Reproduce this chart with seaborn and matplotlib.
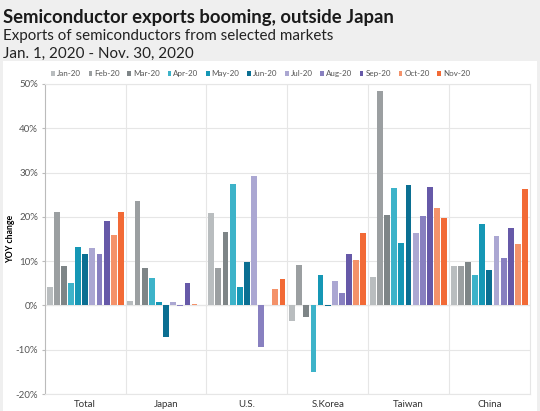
import pandas as pd
import numpy as np
import matplotlib.pyplot as plt
import seaborn as sns
from matplotlib.patches import Rectangle

plt.rcParams['font.family'] = ['Lato', 'DejaVu Sans']

# Chart data (YoY % change in semiconductor exports)
markets = ["Total", "Japan", "U.S.", "S.Korea", "Taiwan", "China"]
months = ["Jan-20", "Feb-20", "Mar-20", "Apr-20", "May-20", "Jun-20",
          "Jul-20", "Aug-20", "Sep-20", "Oct-20", "Nov-20"]

total = [4.2, 21.2, 8.8, 5.0, 13.2, 11.7, 13.0, 11.7, 19.0, 15.8, 21.2]
japan = [1.1, 23.5, 8.4, 6.3, 0.8, -7.2, 0.8, -0.2, 5.1, 0.4, np.nan]
us = [20.9, 8.5, 16.5, 27.5, 4.2, 9.7, 29.3, -9.4, np.nan, 3.8, 6.0]
skorea = [-3.4, 9.2, -2.7, -15.0, 6.9, -0.1, 5.5, 2.8, 11.7, 10.3, 16.3]
taiwan = [6.5, 48.4, 20.4, 26.4, 14.0, 27.2, 16.4, 20.2, 26.8, 22.0, 19.8]
china = [9.0, 9.0, 9.9, 6.8, 18.4, 8.1, 15.7, 10.7, 17.4, 13.8, 26.2]

colors = ["#b9bdbf", "#9b9fa1", "#7e8587", "#3db3c9", "#1597b5", "#0b6f92",
          "#aba7d2", "#8880c0", "#6659a8", "#f4926a", "#f26a36"]

rows = []
for m, vals in zip(markets, [total, japan, us, skorea, taiwan, china]):
    for mo, v in zip(months, vals):
        rows.append({"market": m, "month": mo, "value": v})
df = pd.DataFrame(rows)

fig = plt.figure(figsize=(5.4, 4.11), dpi=100)
fig.patch.set_facecolor("#efefef")
# white chart panel
fig.patches.append(Rectangle((0.006, 0), 0.988, 0.852, transform=fig.transFigure,
                             facecolor="white", edgecolor="none", zorder=-5))

ax = fig.add_axes([0.083, 0.041, 0.898, 0.755])
ax.set_zorder(2)
sns.barplot(data=df, x="market", y="value", hue="month", order=markets,
            hue_order=months, palette=colors, width=0.97, gap=0.18,
            saturation=1, ax=ax, legend=True)

ax.set_ylim(-20, 50)
ax.set_yticks(range(-20, 51, 10))
ax.set_yticklabels([f"{t}%" for t in range(-20, 51, 10)], fontsize=7, color="#555555")
ax.set_xlim(-0.5, len(markets) - 0.5)
ax.tick_params(axis="x", labelsize=7, colors="#333333", length=0, pad=4)
ax.tick_params(axis="y", length=2, color="#bbbbbb", pad=3)
ax.set_xlabel("")
ax.set_ylabel("YOY change", fontsize=6.3, fontweight="bold")
ax.yaxis.set_label_coords(-0.062, 0.5)

ax.grid(axis="y", color="#e6e6e6", linewidth=0.8)
for x in np.arange(0.5, len(markets) - 0.5, 1):
    ax.axvline(x, color="#e6e6e6", linewidth=0.8, zorder=0)
ax.axhline(0, color="#d0d0d0", linewidth=0.8, zorder=0)
ax.set_axisbelow(True)
for side in ["top", "right"]:
    ax.spines[side].set_color("#e6e6e6")
ax.spines["bottom"].set_color("#e6e6e6")
ax.spines["left"].set_color("#bbbbbb")

leg = ax.legend(loc="lower left", bbox_to_anchor=(0.0, 1.0), ncol=11, frameon=False,
                fontsize=5.8, handlelength=0.45, handleheight=0.45, handletextpad=0.25,
                columnspacing=0.95, borderaxespad=0.4)
for t in leg.get_texts():
    t.set_color("#555555")

fig.text(0.006, 0.945, "Semiconductor exports booming, outside Japan",
         fontsize=13.3, fontweight="bold", color="#1a1a1a")
fig.text(0.006, 0.902, "Exports of semiconductors from selected markets",
         fontsize=10.9, color="#222222")
fig.text(0.006, 0.858, "Jan. 1, 2020 - Nov. 30, 2020",
         fontsize=10.9, color="#222222")

fig.savefig("out.png", dpi=100, facecolor=fig.get_facecolor())
